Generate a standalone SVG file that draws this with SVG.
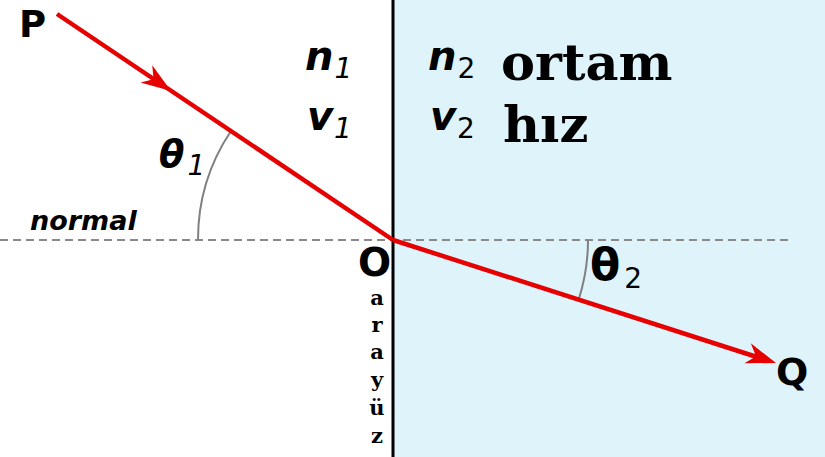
<svg xmlns="http://www.w3.org/2000/svg" width="825" height="457" viewBox="0 0 825 457">
<style>
.lbl{font-family:"DejaVu Sans",sans-serif;font-weight:bold;fill:#000}
.var{font-family:"DejaVu Sans",sans-serif;font-weight:bold;font-style:italic;fill:#000;font-size:40px}
.sub{font-weight:normal;font-size:28px}
.ser{font-family:"DejaVu Serif",serif;font-weight:bold;fill:#000}
.ray{stroke:#e60000;stroke-width:4.5;fill:none}
.arc{stroke:#808080;stroke-width:2;fill:none}
.dash{stroke:#8a8a8a;stroke-width:2;stroke-dasharray:8 5;fill:none}
</style>
<defs>
<path id="ah" d="M0,0 L-30,-11 L-21,0 L-30,10 Z" fill="#e60000"/>
</defs>
<rect x="0" y="0" width="825" height="457" fill="#ffffff"/>
<rect x="393" y="0" width="432" height="457" fill="#dff3fb"/>
<line class="dash" x1="0" y1="240" x2="790" y2="240"/>
<line x1="393" y1="0" x2="393" y2="457" stroke="#000" stroke-width="3"/>
<path class="arc" d="M198,240 A195,195 0 0 1 231,131"/>
<path class="arc" d="M588,240 A195,195 0 0 1 578.6,299.8"/>
<g id="connectors">
<line class="ray" x1="57" y1="14" x2="393" y2="240"/>
<use href="#ah" transform="translate(171,91) rotate(33.9)"/>
<line class="ray" x1="393" y1="240" x2="760" y2="358"/>
<use href="#ah" transform="translate(776,363) rotate(17.85)"/>
</g>
<g id="P"><text class="lbl" x="19" y="37" font-size="37">P</text></g>
<g id="O"><text class="lbl" x="358" y="276" font-size="39">O</text></g>
<g id="Q"><text class="lbl" x="776" y="385" font-size="38">Q</text></g>
<g id="normal"><text class="var" x="30" y="230" style="font-size:27px">normal</text></g>
<g id="theta1"><text class="var" x="159" y="167" style="font-size:37px">θ<tspan class="sub" dx="3" dy="8" font-style="italic">1</tspan></text></g>
<g id="theta2"><text class="lbl" x="590" y="280" font-size="44">θ<tspan class="sub" dx="4" dy="8">2</tspan></text></g>
<g id="n1"><text class="var" x="305" y="70">n<tspan class="sub" dx="1" dy="8">1</tspan></text></g>
<g id="v1"><text class="var" x="307" y="130">v<tspan class="sub" dx="1" dy="8">1</tspan></text></g>
<g id="n2"><text class="var" x="428" y="70">n<tspan class="sub" dx="1" dy="8" font-style="normal">2</tspan></text></g>
<g id="v2"><text class="var" x="430" y="130">v<tspan class="sub" dx="1" dy="8" font-style="normal">2</tspan></text></g>
<g id="ortam"><text class="ser" x="501" y="80" font-size="51">ortam</text></g>
<g id="hiz"><text class="ser" x="503" y="142" font-size="51">hız</text></g>
<g id="arayuz" class="ser" font-size="21" text-anchor="middle">
<text x="377" y="305">a</text>
<text x="377" y="332">r</text>
<text x="377" y="359">a</text>
<text x="377" y="387">y</text>
<text x="377" y="415">ü</text>
<text x="377" y="443">z</text>
</g>
</svg>
